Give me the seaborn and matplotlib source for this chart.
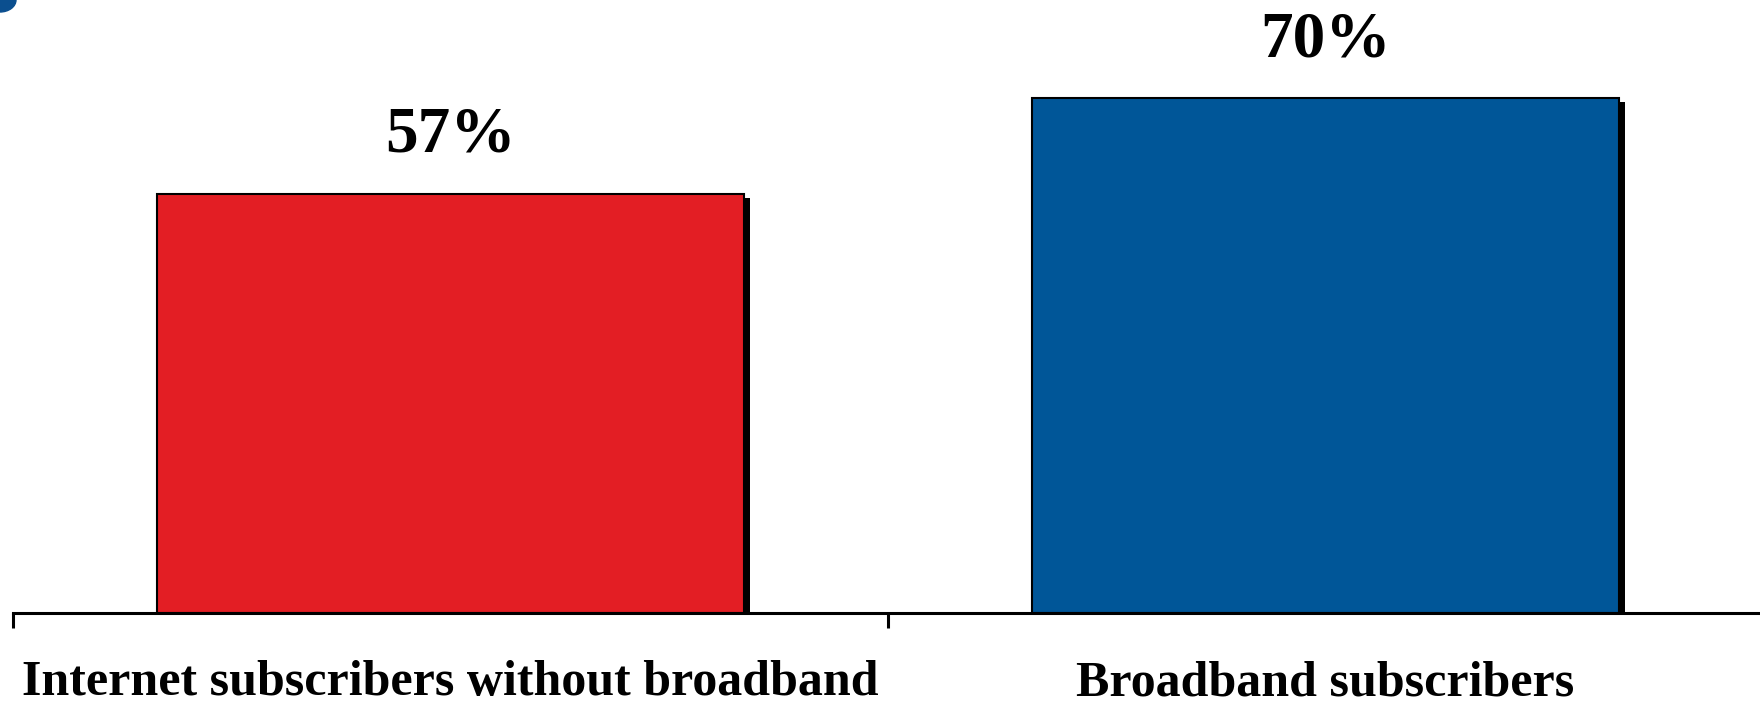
import seaborn as sns
import matplotlib.pyplot as plt
import matplotlib.patheffects as pe
from matplotlib.patches import Ellipse

categories = ['Internet subscribers without broadband', 'Broadband subscribers']
values = [57, 70]
value_labels = ['57%', '70%']
colors = ['#e31e24', '#005698']

sns.set_style('white')
plt.rcParams['font.family'] = ['Liberation Serif', 'DejaVu Serif']
plt.rcParams['text.color'] = 'black'
plt.rcParams['xtick.color'] = 'black'
plt.rcParams['xtick.labelcolor'] = 'black'

fig = plt.figure(figsize=(17.6, 7.04), dpi=100)
ax = fig.add_axes([13 / 1760, 91 / 704, 1750 / 1760, 613 / 704])

sns.barplot(x=categories, y=values, hue=categories, palette=colors, width=0.67,
            saturation=1, edgecolor='black', linewidth=1.5, legend=False, ax=ax)

# drop shadow on the bars
for bar in ax.patches:
    bar.set_path_effects([pe.SimplePatchShadow(offset=(4.3, -2.9), shadow_rgbFace='black', alpha=1),
                          pe.Normal()])

for cont, lab in zip(ax.containers, value_labels):
    ax.bar_label(cont, labels=[lab], padding=20, fontsize=47, fontweight='bold', color='black')

ax.set_xlim(-0.5, 1.5)
ax.set_ylim(0, 83.3)
ax.set_yticks([])
ax.set_ylabel('')
ax.set_xlabel('')

# tick marks on category boundaries, labels in the middle
ax.set_xticks([-0.5, 0.5, 1.5], minor=True)
ax.tick_params(axis='x', which='minor', direction='out', length=10.5, width=2.2, color='black', bottom=True)
ax.tick_params(axis='x', which='major', length=0, pad=34, labelsize=36, labelcolor='black')
for lbl in ax.get_xticklabels():
    lbl.set_fontweight('bold')

for s in ['left', 'top', 'right']:
    ax.spines[s].set_visible(False)
ax.spines['bottom'].set_linewidth(2.2)
ax.spines['bottom'].set_color('black')

# small blue swoosh in the top-left corner
fig.add_artist(Ellipse((0, 7.04), 0.32, 0.24, transform=fig.dpi_scale_trans, color='#0b4f8f'))

fig.savefig('out.png', dpi=100)
